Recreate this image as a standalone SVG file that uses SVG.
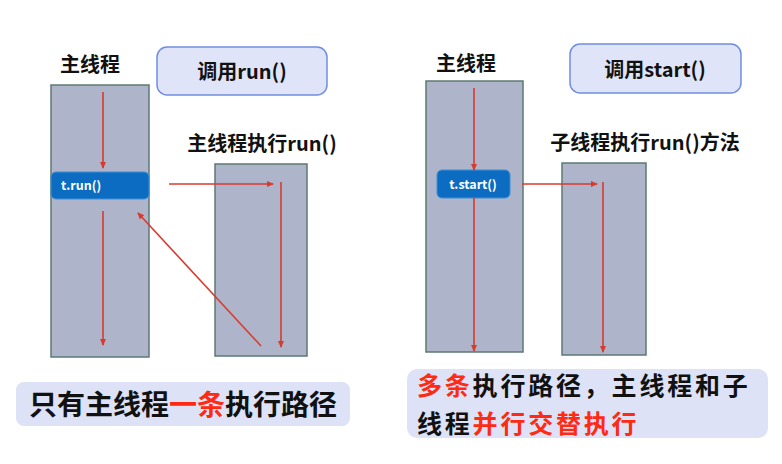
<svg xmlns="http://www.w3.org/2000/svg" width="782" height="464" viewBox="0 0 782 464">
<style>
text{font-family:"Noto Sans CJK SC","Noto Sans",sans-serif;font-weight:bold;fill:#111}
.lbl{font-size:20px}
.call{fill:#dfe4f8;stroke:#6f8ee0;stroke-width:1.5}
.col{fill:#aeb4c9;stroke:#5e7873;stroke-width:1.5}
.btn{fill:#0b6cc1;stroke:#3f8fd6;stroke-width:1}
.btxt{font-size:12.5px;fill:#fff}
.arr{stroke:#d93a2e;stroke-width:1.6;fill:none;marker-end:url(#ah)}
.cap{fill:#dde2f6}
.big{font-size:28px}
.big2{font-size:25px;letter-spacing:2.8px}
.red{fill:#ff2a12}
</style>
<defs>
<marker id="ah" markerWidth="8" markerHeight="8" refX="6" refY="4" orient="auto" markerUnits="userSpaceOnUse">
<path d="M0,1 L7,4 L0,7 Z" fill="#d93a2e"/>
</marker>
</defs>
<rect width="782" height="464" fill="#fff"/>

<g id="left-main-label"><text class="lbl" x="90" y="72" text-anchor="middle">主线程</text></g>
<g id="call-run"><rect class="call" x="157" y="47" width="170" height="48" rx="10"/><text class="lbl" x="242" y="79" text-anchor="middle">调用run()</text></g>
<g id="left-main"><rect class="col" x="51" y="85" width="98" height="272"/></g>
<g id="t-run"><rect class="btn" x="51" y="172" width="98" height="27" rx="5"/><text class="btxt" x="61" y="190">t.run()</text></g>
<g id="run-label"><text class="lbl" x="262" y="151" text-anchor="middle">主线程执行run()</text></g>
<g id="left-run"><rect class="col" x="215" y="164" width="92" height="192"/></g>
<g id="cap-left"><rect class="cap" x="16" y="382" width="334" height="44" rx="8"/><text class="big" x="29" y="415">只有主线程<tspan class="red">一条</tspan>执行路径</text></g>

<g id="right-main-label"><text class="lbl" x="466" y="71" text-anchor="middle">主线程</text></g>
<g id="call-start"><rect class="call" x="570" y="44" width="171" height="49" rx="10"/><text class="lbl" x="655" y="77" text-anchor="middle">调用start()</text></g>
<g id="right-main"><rect class="col" x="426" y="81" width="97" height="271"/></g>
<g id="t-start"><rect class="btn" x="437" y="170" width="73" height="28" rx="5"/><text class="btxt" x="473" y="189" text-anchor="middle">t.start()</text></g>
<g id="sub-label"><text class="lbl" x="645" y="150" text-anchor="middle">子线程执行run()方法</text></g>
<g id="sub-thread"><rect class="col" x="562" y="163" width="84" height="192"/></g>
<g id="cap-right"><rect class="cap" x="407" y="369" width="361" height="69" rx="10"/><text class="big2" x="417" y="395"><tspan class="red">多条</tspan>执行路径，主线程和子</text><text class="big2" x="417" y="433">线程<tspan class="red">并行交替执行</tspan></text></g>

<g id="connectors">
<line class="arr" x1="103" y1="92" x2="103" y2="168"/>
<line class="arr" x1="103" y1="211" x2="103" y2="345"/>
<line class="arr" x1="169" y1="184" x2="273" y2="184"/>
<line class="arr" x1="281" y1="182" x2="281" y2="347"/>
<line class="arr" x1="261" y1="346" x2="138" y2="213"/>
<line class="arr" x1="474" y1="88" x2="474" y2="170"/>
<line class="arr" x1="474" y1="198" x2="474" y2="351"/>
<line class="arr" x1="522" y1="184" x2="597" y2="184"/>
<line class="arr" x1="603" y1="182" x2="603" y2="352"/>
</g>
</svg>
